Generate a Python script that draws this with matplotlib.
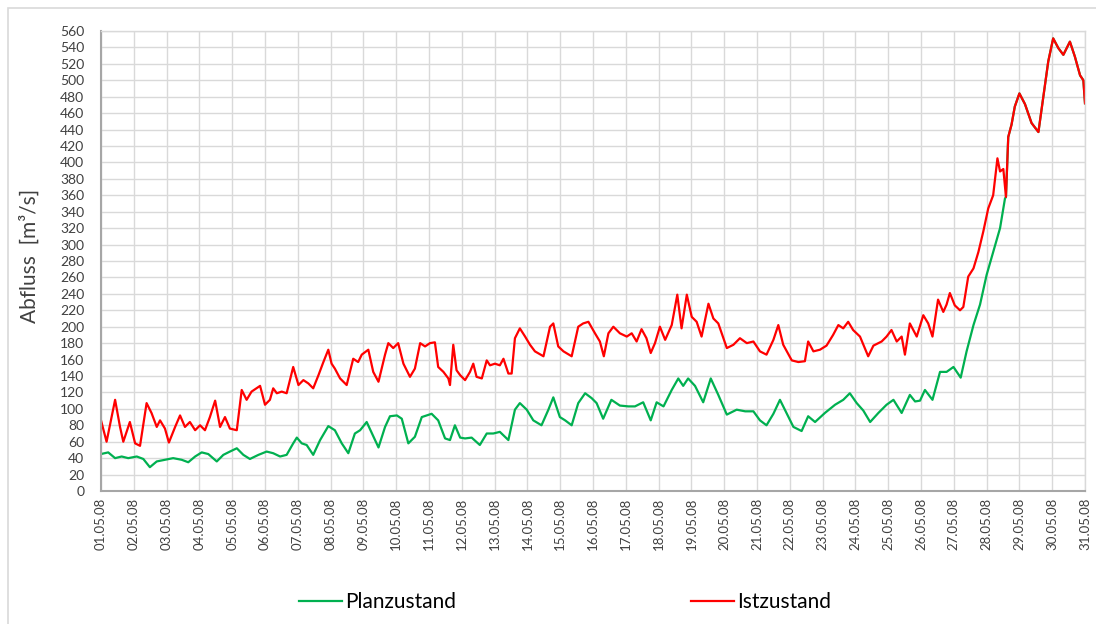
import matplotlib
matplotlib.use("Agg")
import matplotlib.pyplot as plt
from matplotlib.patches import Rectangle

plt.rcParams['font.family'] = ['Lato', 'DejaVu Sans']

# Date labels (one per day, 01.05.08 .. 31.05.08)
date_labels = [f"{d:02d}.05.08" for d in range(1, 32)]

# Istzustand (red) — time in days after 01.05.08, discharge m³/s
ist_days = [0.0, 0.17, 0.43, 0.58, 0.68, 0.88, 1.04, 1.19, 1.39, 1.54, 1.70, 1.80, 1.95, 2.07,
            2.26, 2.41, 2.56, 2.71, 2.87, 3.02, 3.17, 3.32, 3.48, 3.63, 3.78, 3.93, 4.14, 4.29,
            4.44, 4.59, 4.85, 5.0, 5.15, 5.25, 5.36, 5.51, 5.66, 5.86, 6.02, 6.17, 6.32, 6.47,
            6.63, 6.78, 6.93, 7.03, 7.13, 7.29, 7.49, 7.69, 7.84, 7.95, 8.15, 8.3, 8.46, 8.66,
            8.76, 8.91, 9.06, 9.22, 9.42, 9.57, 9.73, 9.88, 10.03, 10.18, 10.28, 10.44, 10.59,
            10.64, 10.74, 10.84, 10.95, 11.1, 11.25, 11.35, 11.45, 11.61, 11.76, 11.86, 12.01,
            12.16, 12.27, 12.42, 12.52, 12.62, 12.77, 12.93, 13.08, 13.23, 13.49, 13.69, 13.79,
            13.94, 14.1, 14.35, 14.55, 14.7, 14.86, 15.06, 15.21, 15.33, 15.47, 15.62, 15.82,
            16.03, 16.18, 16.33, 16.48, 16.63, 16.76, 16.89, 17.04, 17.2, 17.4, 17.57, 17.7,
            17.86, 18.01, 18.16, 18.31, 18.52, 18.67, 18.82, 19.08, 19.28, 19.48, 19.69, 19.89,
            20.09, 20.29, 20.5, 20.65, 20.8, 21.06, 21.26, 21.46, 21.56, 21.72, 21.92, 22.12,
            22.32, 22.48, 22.63, 22.78, 22.93, 23.14, 23.39, 23.55, 23.8, 23.95, 24.1, 24.26,
            24.41, 24.51, 24.66, 24.87, 25.07, 25.22, 25.35, 25.52, 25.68, 25.78, 25.88, 26.03,
            26.19, 26.29, 26.44, 26.6, 26.75, 26.9, 27.05, 27.2, 27.33, 27.41, 27.51, 27.59,
            27.66, 27.76, 27.86, 28.0, 28.17, 28.37, 28.58, 28.73, 28.88, 29.03, 29.19, 29.34,
            29.54, 29.69, 29.85, 29.95, 30.0]
ist_flow = [86, 60, 111, 78, 60, 84, 58, 55, 107, 95, 78, 86, 76, 59,
            78, 92, 78, 84, 74, 80, 74, 90, 110, 78, 90, 76, 74, 123,
            111, 121, 128, 105, 111, 125, 119, 121, 119, 151, 129, 135, 131, 125,
            141, 157, 172, 155, 149, 137, 129, 161, 157, 166, 172, 145, 133, 166,
            180, 174, 180, 155, 139, 149, 180, 176, 180, 181, 151, 145, 137,
            129, 178, 147, 141, 135, 145, 155, 139, 137, 159, 153, 155,
            153, 161, 143, 143, 186, 198, 188, 178, 170, 164, 200, 204,
            176, 170, 164, 200, 204, 206, 192, 182, 164, 192, 200, 192,
            188, 192, 182, 197, 186, 168, 180, 200, 184, 202, 239, 198,
            239, 212, 206, 188, 228, 210, 204, 174, 178, 186, 180, 182,
            170, 166, 184, 202, 178, 159, 157, 158, 182, 170, 172, 177,
            190, 202, 198, 206, 196, 188, 164, 177, 182, 188, 196, 182,
            188, 166, 204, 188, 214, 204, 188, 233, 218, 227, 241, 226,
            220, 224, 261, 271, 291, 316, 344, 360, 405, 389, 392, 358,
            431, 446, 468, 484, 471, 448, 437, 480, 523, 551, 539, 531,
            547, 529, 506, 500, 472]

# Planzustand (green)
plan_days = [0.0, 0.22, 0.43, 0.63, 0.83, 1.09, 1.29, 1.49, 1.70, 1.95, 2.20, 2.46, 2.66, 2.87,
             3.07, 3.27, 3.53, 3.73, 3.93, 4.14, 4.34, 4.54, 4.80, 5.05, 5.25, 5.46, 5.66, 5.86,
             5.97, 6.12, 6.27, 6.47, 6.68, 6.93, 7.13, 7.34, 7.54, 7.74, 7.9, 8.10, 8.25, 8.46,
             8.66, 8.81, 9.02, 9.17, 9.37, 9.57, 9.78, 10.08, 10.28, 10.49, 10.64, 10.79, 10.95,
             11.1, 11.3, 11.55, 11.76, 11.96, 12.16, 12.42, 12.62, 12.77, 12.98, 13.18, 13.43,
             13.64, 13.79, 13.99, 14.15, 14.35, 14.55, 14.76, 14.96, 15.11, 15.31, 15.56, 15.82,
             16.08, 16.28, 16.53, 16.76, 16.94, 17.15, 17.4, 17.6, 17.75, 17.9, 18.11, 18.36,
             18.59, 18.82, 19.08, 19.38, 19.64, 19.89, 20.09, 20.29, 20.5, 20.7, 20.9, 21.11,
             21.36, 21.56, 21.77, 22.07, 22.38, 22.63, 22.83, 23.04, 23.24, 23.45, 23.7, 23.95,
             24.16, 24.41, 24.66, 24.82, 24.97, 25.12, 25.35, 25.58, 25.78, 25.99, 26.21, 26.39,
             26.6, 26.8, 27.0, 27.2, 27.41, 27.56, 27.59,
             27.66, 27.76, 27.86, 28.0, 28.17, 28.37, 28.58, 28.73, 28.88, 29.03, 29.19, 29.34,
             29.54, 29.69, 29.85, 29.95, 30.0]
plan_flow = [45, 47, 40, 42, 40, 42, 39, 29, 36, 38, 40, 38, 35, 42,
             47, 45, 36, 44, 48, 52, 44, 39, 44, 48, 46, 42, 44, 58,
             65, 58, 56, 44, 62, 79, 74, 58, 46, 70, 74, 84, 71, 53,
             78, 91, 92, 88, 58, 66, 90, 94, 86, 64, 62, 80, 65,
             64, 65, 56, 70, 70, 72, 62, 99, 107, 99, 86, 80,
             99, 114, 90, 86, 80, 107, 119, 113, 107, 88, 111, 104,
             103, 103, 108, 86, 108, 103, 123, 137, 128, 137, 128, 108,
             137, 117, 93, 99, 97, 97, 86, 80, 94, 111, 95, 78,
             73, 91, 84, 95, 105, 111, 119, 107, 98, 84, 95, 105,
             111, 95, 117, 109, 110, 123, 111, 145, 145, 151, 138, 170,
             202, 227, 263, 291, 320, 356, 358,
             431, 446, 468, 484, 471, 448, 437, 480, 523, 551, 539, 531,
             547, 529, 506, 500, 472]

W, H = 1096, 624
fig = plt.figure(figsize=(W / 100, H / 100), dpi=100)
fig.patch.set_facecolor('white')

# outer chart frame
fig.add_artist(Rectangle((8 / W, -0.05), 1.2, 1 - 8 / H + 0.05, transform=fig.transFigure,
                         fill=False, edgecolor='#d9d9d9', linewidth=1.2))

ax = fig.add_axes([101 / W, 1 - 491 / H, (1085 - 101) / W, (491 - 31) / H])

ax.plot(plan_days, plan_flow, color='#00B050', linewidth=1.6, label='Planzustand')
ax.plot(ist_days, ist_flow, color='#FF0000', linewidth=1.6, label='Istzustand')

ax.set_xlim(0, 30)
ax.set_ylim(0, 560)
ax.set_yticks(range(0, 561, 20))
ax.set_xticks(range(0, 31))
ax.set_xticklabels(date_labels, rotation=90, fontsize=9.5, color='#404040')
ax.tick_params(axis='y', labelsize=10, colors='#404040', length=0, pad=12)
ax.tick_params(axis='x', length=0, pad=5)

ax.grid(True, color='#d9d9d9', linewidth=1.0)
ax.set_axisbelow(True)
for s in ['top', 'right']:
    ax.spines[s].set_color('#d9d9d9')
    ax.spines[s].set_linewidth(1.0)
for s in ['left', 'bottom']:
    ax.spines[s].set_color('#a6a6a6')
    ax.spines[s].set_linewidth(1.5)

ax.set_ylabel('Abfluss  [m³/s]', fontsize=15, color='#404040')
ax.yaxis.set_label_coords((40 - 101) / 984, 0.51)

fig.legend(loc='center', bbox_to_anchor=(565 / W, 1 - 602 / H), ncol=2, frameon=False,
           fontsize=15, handlelength=2.07, handletextpad=0.15, columnspacing=11.3)

fig.savefig('out.png', dpi=100, facecolor='white')
